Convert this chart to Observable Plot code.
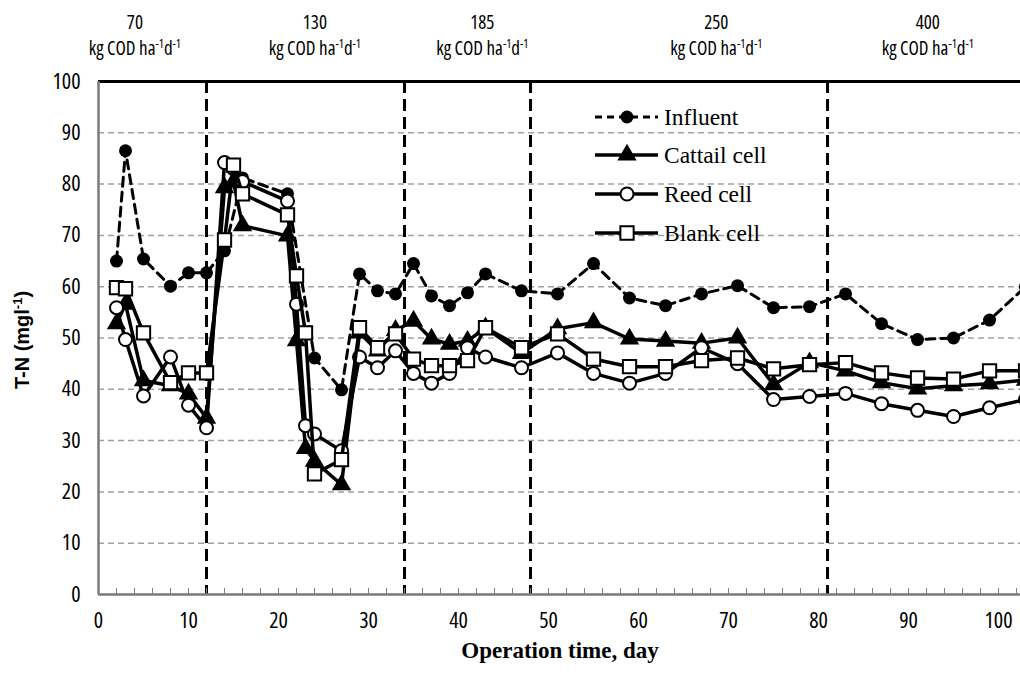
<!DOCTYPE html>
<html><head><meta charset="utf-8">
<script src="https://cdn.jsdelivr.net/npm/d3@7"></script>
<script src="https://cdn.jsdelivr.net/npm/@observablehq/plot@0.6"></script>
<style>
html,body{margin:0;padding:0;background:#fff;}
#chart{width:1020px;height:683px;overflow:hidden;}
</style></head><body><div id="chart"></div>
<script>
// ---- data ----
const influentDay = [2,3,5,8,10,12,14,16,21,24,27,29,31,33,35,37,39,41,43,47,51,55,59,63,67,71,75,79,83,87,91,95,99,103];
const influentTN  = [65,86.5,65.4,60.1,62.7,62.7,67,81.2,78.1,46.1,39.9,62.5,59.2,58.6,64.5,58.2,56.3,58.8,62.5,59.2,58.6,64.5,57.8,56.3,58.6,60.2,55.9,56.1,58.6,52.8,49.7,50.0,53.5,60];
const cellDay     = [2,3,5,8,10,12,14,15,16,21,22,23,24,27,29,31,33,35,37,39,41,43,47,51,55,59,63,67,71,75,79,83,87,91,95,99,103];
const cattailTN   = [52.8,56.6,41.7,40.7,39.1,34.4,79.3,80.5,71.9,69.9,49.5,28.5,26,21.4,51,47.5,51.5,53.3,49.8,48.8,49.4,52,47,51.8,53,49.8,49.4,49,50,40.9,45.2,43.6,41.3,40.1,40.7,41.1,41.8];
const reedTN      = [55.9,49.7,38.7,46.3,36.9,32.5,84.2,83,80.5,76.7,56.6,32.9,31.3,28,46.3,44.2,47.5,43.1,41.2,43.1,48.1,46.3,44.2,47.1,43.1,41.2,43.1,48.1,45,38,38.6,39.2,37.2,35.9,34.7,36.4,38];
const blankTN     = [59.8,59.6,51,41.3,43.2,43.2,69.1,83.7,78.1,74,62.1,51,23.5,26.3,52,48.1,50.8,45.9,44.6,44.6,45.6,52,48.1,50.8,45.9,44.4,44.4,45.6,46.1,44,44.8,45.2,43.2,42.2,42,43.6,43.6];
const boundaryDays = [12,34,48,81];
const loads = ["70","130","185","250","400"];
const loadLabelDay = [4.1,24.1,42.7,68.7,92.2];
const seriesNames = ["Influent","Cattail cell","Reed cell","Blank cell"];
const yTicks = d3.range(0,101,10);
const xTicks = d3.range(0,101,10);
const minorTicks = d3.range(0,103,2);
const gridY = d3.range(10,100,10);

// ---- layout ----
const W = 1020, H = 683;
const numFont = '"Open Sans","Liberation Sans Narrow","DejaVu Sans Condensed",sans-serif';
const serif = '"Liberation Serif","DejaVu Serif",serif';

const rows = (day, tn) => day.map((d,i) => ({day: d, tn: tn[i]}));
const inf = rows(influentDay, influentTN);
const cat = rows(cellDay, cattailTN);
const reed = rows(cellDay, reedTN);
const blank = rows(cellDay, blankTN);

const plot = Plot.plot({
  width: W, height: H,
  marginLeft: 98, marginRight: 0, marginTop: 81, marginBottom: 89,
  x: {domain: [0, 102.44]},
  y: {domain: [0, 100]},
  style: {fontFamily: numFont, fontSize: "22px", fontStretch: "85%", color: "#000", background: "#fff"},
  marks: [
    Plot.ruleY(gridY, {stroke: "#a0a0a0", strokeWidth: 1.5, strokeDasharray: "6,4"}),
    Plot.ruleX(boundaryDays, {stroke: "#000", strokeWidth: 3, strokeDasharray: "12,6"}),
    Plot.ruleY([100], {stroke: "#000", strokeWidth: 3}),
    Plot.axisX({ticks: minorTicks, tickSize: -6, tickFormat: () => "", stroke: "#808080", label: null}),
    Plot.ruleX([0], {stroke: "#7a7a7a", strokeWidth: 2.5}),
    Plot.ruleY([0], {stroke: "#7a7a7a", strokeWidth: 2.5}),
    Plot.axisX({ticks: xTicks, tickSize: 0, tickPadding: 18, label: null, fontSize: 22}),
    Plot.axisY({ticks: yTicks, tickSize: 0, tickPadding: 18, label: null, fontSize: 22}),

    Plot.line(inf, {x: "day", y: "tn", stroke: "#000", strokeWidth: 3, strokeDasharray: "9,6"}),
    Plot.dot(inf, {x: "day", y: "tn", r: 6.5, fill: "#000", symbol: "circle"}),

    Plot.line(cat, {x: "day", y: "tn", stroke: "#000", strokeWidth: 3.5}),
    Plot.dot(cat, {x: "day", y: "tn", r: 7.2, fill: "#000", symbol: "triangle"}),

    Plot.line(reed, {x: "day", y: "tn", stroke: "#000", strokeWidth: 3.5}),
    Plot.dot(reed, {x: "day", y: "tn", r: 6.5, fill: "#fff", stroke: "#000", strokeWidth: 2, symbol: "circle"}),

    Plot.line(blank, {x: "day", y: "tn", stroke: "#000", strokeWidth: 3.5}),
    Plot.dot(blank, {x: "day", y: "tn", r: 7.5, fill: "#fff", stroke: "#000", strokeWidth: 2, symbol: "square"})
  ]
});

document.getElementById("chart").appendChild(plot);
const svg = d3.select(plot);
const xs = plot.scale("x");

// loading-rate labels above the frame
loads.forEach((v, i) => {
  const cx = xs.apply(loadLabelDay[i]);
  svg.append("text").attr("x", cx).attr("y", 29).attr("text-anchor", "middle")
    .style("font-family", numFont).style("font-size", "19px").text(v);
  const t = svg.append("text").attr("x", cx).attr("y", 55).attr("text-anchor", "middle")
    .style("font-family", numFont).style("font-size", "19px");
  t.append("tspan").text("kg COD ha");
  t.append("tspan").attr("dy", -7).style("font-size", "12px").text("-1");
  t.append("tspan").attr("dy", 7).text("d");
  t.append("tspan").attr("dy", -7).style("font-size", "12px").text("-1");
});

// y axis title
const yt = svg.append("text").attr("transform", "translate(29,340) rotate(-90)")
  .attr("text-anchor", "middle").style("font-family", '"Liberation Sans",Arial,sans-serif')
  .style("font-stretch", "normal")
  .style("font-weight", "bold").style("font-size", "20px");
yt.append("tspan").text("T-N (mgl");
yt.append("tspan").attr("dy", -7).style("font-size", "13px").text("-1");
yt.append("tspan").attr("dy", 7).text(")");

// x axis title
svg.append("text").attr("x", 560).attr("y", 658).attr("text-anchor", "middle")
  .style("font-family", serif).style("font-stretch", "normal").style("font-weight", "bold").style("font-size", "23px")
  .text("Operation time, day");

// legend
const legY = [117, 155, 194, 233];
const sym = [d3.symbolCircle, d3.symbolTriangle, d3.symbolCircle, d3.symbolSquare];
const symR = [6.5, 7.2, 6.5, 7.5];
const symFill = ["#000", "#000", "#fff", "#fff"];
seriesNames.forEach((name, i) => {
  const g = svg.append("g").attr("transform", `translate(0,${legY[i]})`);
  g.append("line").attr("x1", 595).attr("x2", 658).attr("y1", 0).attr("y2", 0)
    .attr("stroke", "#000").attr("stroke-width", i === 0 ? 3 : 3.5)
    .attr("stroke-dasharray", i === 0 ? "7,5" : null);
  g.append("path").attr("transform", "translate(627,0)")
    .attr("d", d3.symbol(sym[i], Math.PI * symR[i] * symR[i])())
    .attr("fill", symFill[i]).attr("stroke", i >= 2 ? "#000" : "none").attr("stroke-width", 2);
  g.append("text").attr("x", 664).attr("y", 8).attr("text-anchor", "start")
    .style("font-family", serif).style("font-stretch", "normal").style("font-size", "23.5px").text(name);
});
</script></body></html>
